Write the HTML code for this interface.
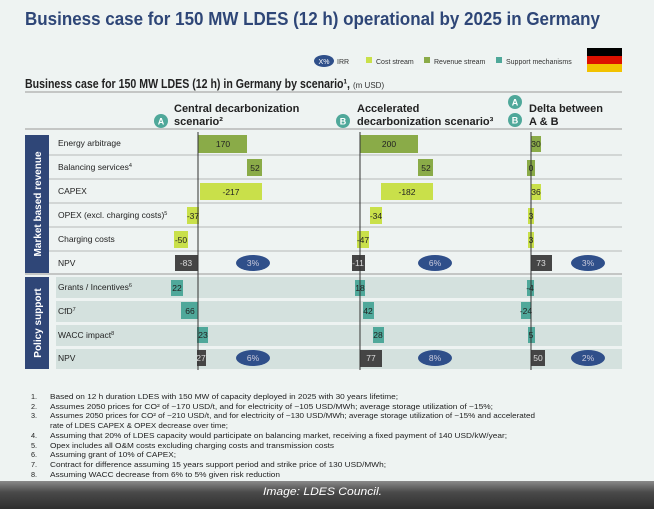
<!DOCTYPE html>
<html><head><meta charset="utf-8"><style>
html,body{margin:0;padding:0;background:#eef3f2;}
svg{display:block;font-family:"Liberation Sans",sans-serif;}
</style></head><body>
<svg width="654" height="509" viewBox="0 0 654 509" xmlns="http://www.w3.org/2000/svg">
<defs><linearGradient id="g" x1="0" y1="0" x2="0" y2="1"><stop offset="0" stop-color="#8a8a8a"/><stop offset="0.4" stop-color="#4a4a4a"/><stop offset="1" stop-color="#2e2e2e"/></linearGradient></defs>
<rect width="654" height="509" fill="#eef3f2"/>
<text x="25" y="25" font-size="18" font-weight="bold" fill="#2e4677" textLength="575" lengthAdjust="spacingAndGlyphs">Business case for 150 MW LDES (12 h) operational by 2025 in Germany</text>

<ellipse cx="324" cy="61" rx="10" ry="6" fill="#2f4f8a"/>
<text x="324" y="64" font-size="7" fill="#fff" text-anchor="middle">X%</text>
<text x="337" y="64" font-size="7" fill="#333">IRR</text>
<rect x="366" y="57" width="6" height="6" fill="#c9e04a"/><text x="376" y="64" font-size="7" fill="#333">Cost stream</text>
<rect x="424" y="57" width="6" height="6" fill="#8aab48"/><text x="434" y="64" font-size="7" fill="#333">Revenue stream</text>
<rect x="496" y="57" width="6" height="6" fill="#4fa89a"/><text x="506" y="64" font-size="7" fill="#333">Support mechanisms</text>
<rect x="587" y="48" width="35" height="8" fill="#000"/><rect x="587" y="56" width="35" height="8" fill="#dd1100"/><rect x="587" y="64" width="35" height="8" fill="#f2c200"/>

<text x="25" y="88" font-size="12.5" font-weight="bold" fill="#222" textLength="325" lengthAdjust="spacingAndGlyphs">Business case for 150 MW LDES (12 h) in Germany by scenario¹,</text>
<text x="353" y="88" font-size="8" fill="#333">(m USD)</text>
<line x1="25" y1="92" x2="622" y2="92" stroke="#aaa" stroke-width="1.2"/>

<g font-size="11" font-weight="bold" fill="#222">
<text x="174" y="112">Central decarbonization</text><text x="174" y="125">scenario²</text>
<text x="357" y="112">Accelerated</text><text x="357" y="125">decarbonization scenario³</text>
<text x="529" y="112">Delta between</text><text x="529" y="125">A &amp; B</text>
</g>
<g font-size="9" font-weight="bold" fill="#fff" text-anchor="middle">
<circle cx="161" cy="121" r="7" fill="#4fa89a"/><text x="161" y="124.5">A</text>
<circle cx="343" cy="121" r="7" fill="#4fa89a"/><text x="343" y="124.5">B</text>
<circle cx="515" cy="102" r="7" fill="#4fa89a"/><text x="515" y="105.5">A</text>
<circle cx="515" cy="120" r="7" fill="#4fa89a"/><text x="515" y="123.5">B</text>
</g>
<line x1="25" y1="129" x2="622" y2="129" stroke="#aaa" stroke-width="1.2"/>

<rect x="25" y="135" width="24" height="138" fill="#2f4677"/>
<text transform="translate(41,204) rotate(-90)" font-size="10" font-weight="bold" fill="#fff" text-anchor="middle">Market based revenue</text>
<rect x="25" y="277" width="24" height="92" fill="#2f4677"/>
<text transform="translate(41,323) rotate(-90)" font-size="10" font-weight="bold" fill="#fff" text-anchor="middle">Policy support</text>

<g stroke="#b5b9b8" stroke-width="1">
<line x1="49" y1="155" x2="622" y2="155"/><line x1="49" y1="179" x2="622" y2="179"/>
<line x1="49" y1="203" x2="622" y2="203"/><line x1="49" y1="227" x2="622" y2="227"/>
<line x1="49" y1="251" x2="622" y2="251"/>
</g>
<line x1="25" y1="274" x2="622" y2="274" stroke="#aaa" stroke-width="1.2"/>
<g fill="#d4e1de">
<rect x="56" y="277" width="566" height="21"/><rect x="56" y="301" width="566" height="21"/>
<rect x="56" y="325" width="566" height="21"/><rect x="56" y="349" width="566" height="20"/>
</g>

<g font-size="8.5" fill="#222">
<text x="58" y="146">Energy arbitrage</text>
<text x="58" y="170">Balancing services<tspan font-size="5.5" dy="-3">4</tspan></text>
<text x="58" y="194">CAPEX</text>
<text x="58" y="218">OPEX (excl. charging costs)<tspan font-size="5.5" dy="-3">5</tspan></text>
<text x="58" y="242">Charging costs</text>
<text x="58" y="266">NPV</text>
<text x="58" y="290">Grants / Incentives<tspan font-size="5.5" dy="-3">6</tspan></text>
<text x="58" y="314">CfD<tspan font-size="5.5" dy="-3">7</tspan></text>
<text x="58" y="338">WACC impact<tspan font-size="5.5" dy="-3">8</tspan></text>
<text x="58" y="361">NPV</text>
</g>

<g>
<rect x="198" y="135" width="49" height="18" fill="#8aab48"/>
<rect x="247" y="159" width="15" height="17" fill="#8aab48"/>
<rect x="200" y="183" width="62" height="17" fill="#c9e04a"/>
<rect x="187" y="207" width="12" height="17" fill="#c9e04a"/>
<rect x="174" y="231" width="14" height="17" fill="#c9e04a"/>
<rect x="175" y="255" width="23" height="16" fill="#454545"/>
<rect x="171" y="280" width="12" height="16" fill="#4fa89a"/>
<rect x="181" y="302" width="17" height="17" fill="#4fa89a"/>
<rect x="197" y="327" width="11" height="16" fill="#4fa89a"/>
<rect x="197" y="350" width="9" height="16" fill="#454545"/>
<rect x="360" y="135" width="58" height="18" fill="#8aab48"/>
<rect x="418" y="159" width="15" height="17" fill="#8aab48"/>
<rect x="381" y="183" width="52" height="17" fill="#c9e04a"/>
<rect x="370" y="207" width="12" height="17" fill="#c9e04a"/>
<rect x="357" y="231" width="12" height="17" fill="#c9e04a"/>
<rect x="352" y="255" width="13" height="16" fill="#454545"/>
<rect x="355" y="280" width="10" height="16" fill="#4fa89a"/>
<rect x="363" y="302" width="11" height="17" fill="#4fa89a"/>
<rect x="373" y="327" width="11" height="16" fill="#4fa89a"/>
<rect x="360" y="350" width="22" height="17" fill="#454545"/>
<rect x="531" y="136" width="10" height="16" fill="#8aab48"/>
<rect x="527" y="160" width="8" height="16" fill="#8aab48"/>
<rect x="531" y="184" width="10" height="16" fill="#c9e04a"/>
<rect x="528" y="208" width="6" height="16" fill="#c9e04a"/>
<rect x="528" y="232" width="6" height="16" fill="#c9e04a"/>
<rect x="531" y="255" width="21" height="16" fill="#454545"/>
<rect x="527" y="280" width="7" height="16" fill="#4fa89a"/>
<rect x="521" y="302" width="10" height="17" fill="#4fa89a"/>
<rect x="528" y="327" width="7" height="16" fill="#4fa89a"/>
<rect x="531" y="350" width="14" height="16" fill="#454545"/>
</g>

<g stroke="#333" stroke-width="1"><line x1="198" y1="132" x2="198" y2="370"/><line x1="360" y1="132" x2="360" y2="370"/><line x1="531" y1="132" x2="531" y2="370"/></g>

<g font-size="8.5" fill="#222" text-anchor="middle">
<text x="223" y="147">170</text><text x="255" y="171">52</text><text x="231" y="195">-217</text>
<text x="193" y="219">-37</text><text x="181" y="243">-50</text>
<text x="177" y="291">22</text><text x="190" y="314">66</text><text x="203" y="338">23</text>
<text x="389" y="147">200</text><text x="426" y="171">52</text><text x="407" y="195">-182</text>
<text x="376" y="219">-34</text><text x="363" y="243">-47</text>
<text x="360" y="291">18</text><text x="368" y="314">42</text><text x="378" y="338">28</text>
<text x="536" y="147">30</text><text x="531" y="171">0</text><text x="536" y="195">36</text>
<text x="531" y="219">3</text><text x="531" y="243">3</text>
<text x="530" y="291">-4</text><text x="526" y="314">-24</text><text x="531" y="338">5</text>
</g>
<g font-size="8.5" fill="#ddd" text-anchor="middle">
<text x="186" y="266">-83</text><text x="358" y="266">-11</text><text x="541" y="266">73</text>
<text x="201" y="361">27</text><text x="371" y="361">77</text><text x="538" y="361">50</text>
</g>

<g fill="#2f4f8a"><ellipse cx="253" cy="263" rx="17" ry="8"/><ellipse cx="435" cy="263" rx="17" ry="8"/><ellipse cx="588" cy="263" rx="17" ry="8"/>
<ellipse cx="253" cy="358" rx="17" ry="8"/><ellipse cx="435" cy="358" rx="17" ry="8"/><ellipse cx="588" cy="358" rx="17" ry="8"/></g>
<g font-size="8.5" fill="#ccd" text-anchor="middle">
<text x="253" y="266">3%</text><text x="435" y="266">6%</text><text x="588" y="266">3%</text>
<text x="253" y="361">6%</text><text x="435" y="361">8%</text><text x="588" y="361">2%</text></g>

<g font-size="7.3" fill="#222">
<text x="31" y="399">1.</text><text x="50" y="399" textLength="348" lengthAdjust="spacingAndGlyphs">Based on 12 h duration LDES with 150 MW of capacity deployed in 2025 with 30 years lifetime;</text>
<text x="31" y="409">2.</text><text x="50" y="409" textLength="443" lengthAdjust="spacingAndGlyphs">Assumes 2050 prices for CO² of ~170 USD/t, and for electricity of ~105 USD/MWh; average storage utilization of ~15%;</text>
<text x="31" y="418">3.</text><text x="50" y="418" textLength="485" lengthAdjust="spacingAndGlyphs">Assumes 2050 prices for CO² of ~210 USD/t, and for electricity of ~130 USD/MWh; average storage utilization of ~15% and accelerated</text>
<text x="50" y="428" textLength="178" lengthAdjust="spacingAndGlyphs">rate of LDES CAPEX &amp; OPEX decrease over time;</text>
<text x="31" y="438">4.</text><text x="50" y="438" textLength="457" lengthAdjust="spacingAndGlyphs">Assuming that 20% of LDES capacity would participate on balancing market, receiving a fixed payment of 140 USD/kW/year;</text>
<text x="31" y="448">5.</text><text x="50" y="448" textLength="284" lengthAdjust="spacingAndGlyphs">Opex includes all O&amp;M costs excluding charging costs and transmission costs</text>
<text x="31" y="457">6.</text><text x="50" y="457" textLength="126" lengthAdjust="spacingAndGlyphs">Assuming grant of 10% of CAPEX;</text>
<text x="31" y="467">7.</text><text x="50" y="467" textLength="336" lengthAdjust="spacingAndGlyphs">Contract for difference assuming 15 years support period and strike price of 130 USD/MWh;</text>
<text x="31" y="477">8.</text><text x="50" y="477" textLength="230" lengthAdjust="spacingAndGlyphs">Assuming WACC decrease from 6% to 5% given risk reduction</text>
</g>

<rect x="0" y="481" width="654" height="28" fill="url(#g)"/>
<text x="263" y="495" font-size="11" font-style="italic" fill="#fff" textLength="119" lengthAdjust="spacingAndGlyphs">Image: LDES Council.</text>
</svg>
</body></html>
